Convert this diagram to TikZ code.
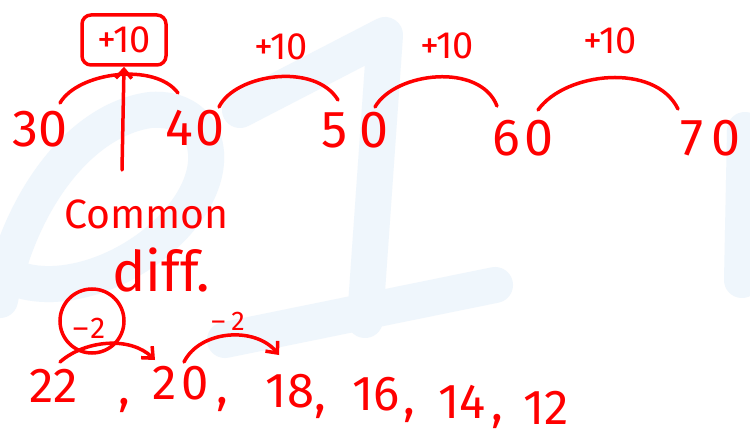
\documentclass[tikz,border=0pt]{standalone}
\usepackage{fontspec}
\setmainfont{Fira Sans}
\usetikzlibrary{arrows.meta}
\definecolor{ink}{RGB}{255,0,0}
\definecolor{wm}{RGB}{239,246,252}
\tikzset{
  num/.style={text=ink, font=\fontsize{52}{56}\selectfont, inner sep=0pt},
  bnum/.style={text=ink, font=\fontsize{49}{52}\selectfont, inner sep=0pt},
  lbl/.style={text=ink, font=\fontsize{38}{40}\selectfont, inner sep=0pt},
  slbl/.style={text=ink, font=\fontsize{30}{32}\selectfont, inner sep=0pt},
  word/.style={text=ink, inner sep=0pt},
  pen/.style={draw=ink, line width=3.5pt, line cap=round, line join=round},
  arr/.style={pen, -{Straight Barb[length=9pt,width=16pt,line width=3.5pt]}},
  wmark/.style={draw=wm, line width=36pt, line cap=round, line join=round},
}
\begin{document}
\begin{tikzpicture}[x=1pt,y=-1pt]
\useasboundingbox[fill=white] (0,0) rectangle (750,441);
% faint watermark
\draw[wmark] (0,300) .. controls (20,200) and (80,120) .. (150,110) .. controls (210,105) and (230,170) .. (170,230) .. controls (120,280) and (40,300) .. (0,270);
\draw[wmark] (240,110) -- (385,35) -- (365,320);
\draw[wmark] (225,340) -- (495,285);
\draw[wmark] (745,130) -- (742,280);

% top sequence
\node[num] (n30) at (40,129) {30};
\node[num] (n40) at (195,128) {4\hspace{3pt}0};
\node[num] (n50) at (355,130) {5\hspace{12pt}0};
\node[num] (n60) at (523,138) {6\hspace{4pt}0};
\node[num] (n70) at (711,138) {7\hspace{8pt}0};

\coordinate (a1s) at (60,103);  \coordinate (a1e) at (178,93);
\coordinate (a2s) at (219,107); \coordinate (a2e) at (338,100);
\coordinate (a3s) at (375,107); \coordinate (a3e) at (497,106);
\coordinate (a4s) at (538,110); \coordinate (a4e) at (678,109);

\draw[pen] (a1s) .. controls (78,72) and (155,62) .. (a1e);
\draw[pen] (a2s) .. controls (235,74) and (315,62) .. (a2e);
\draw[pen] (a3s) .. controls (395,72) and (480,62) .. (a3e);
\draw[pen] (a4s) .. controls (565,72) and (655,62) .. (a4e);

\node[lbl, draw=ink, line width=3.5pt, rounded corners=9pt,
      minimum width=84pt, minimum height=50pt] (box) at (124,40) {\raisebox{-4pt}{+10}};
\node[lbl] (l2) at (281,47) {+10};
\node[lbl] (l3) at (447,46) {+10};
\node[lbl] (l4) at (610,41) {+10};

\coordinate (tail) at (122,170);
\draw[arr] (tail) -- (box.south);

\node[word, font=\fontsize{41}{44}\selectfont, anchor=base west] (common) at (64,229) {Common};
\node[word, font=\fontsize{56}{60}\selectfont, anchor=base west] (diff) at (112,291) {diff.};

% bottom sequence
\node[slbl] (m1) at (89,328) {–\hspace{2pt}2};
\node[draw=ink, line width=3.5pt, circle, minimum size=64pt, inner sep=0pt] (c1) at (92,321) {};
\node[slbl, font=\fontsize{27}{29}\selectfont] (m2) at (228,321) {–\hspace{6pt}2};

\node[bnum] (b22) at (54,386) {22};
\node[bnum] (b20) at (181,383) {2\hspace{5pt}0};
\node[bnum] (b18) at (290,391) {18};
\node[bnum] (b16) at (376,394) {16};
\node[bnum] (b14) at (462,402) {14};
\node[bnum] (b12) at (546,408) {12};

\node[bnum, anchor=base] (k1) at (124,404) {,};
\node[bnum, anchor=base] (k2) at (222,403) {,};
\node[bnum, anchor=base] (k3) at (320,410) {,};
\node[bnum, anchor=base] (k4) at (409,414) {,};
\node[bnum, anchor=base] (k5) at (497,420) {,};

\coordinate (s1) at (60,362); \coordinate (e1) at (155,360);
\coordinate (s2) at (184,362); \coordinate (e2) at (279,355);
\draw[arr] (s1) .. controls (85,340) and (130,336) .. (e1);
\draw[arr] (s2) .. controls (200,330) and (255,326) .. (e2);
\end{tikzpicture}
\end{document}
